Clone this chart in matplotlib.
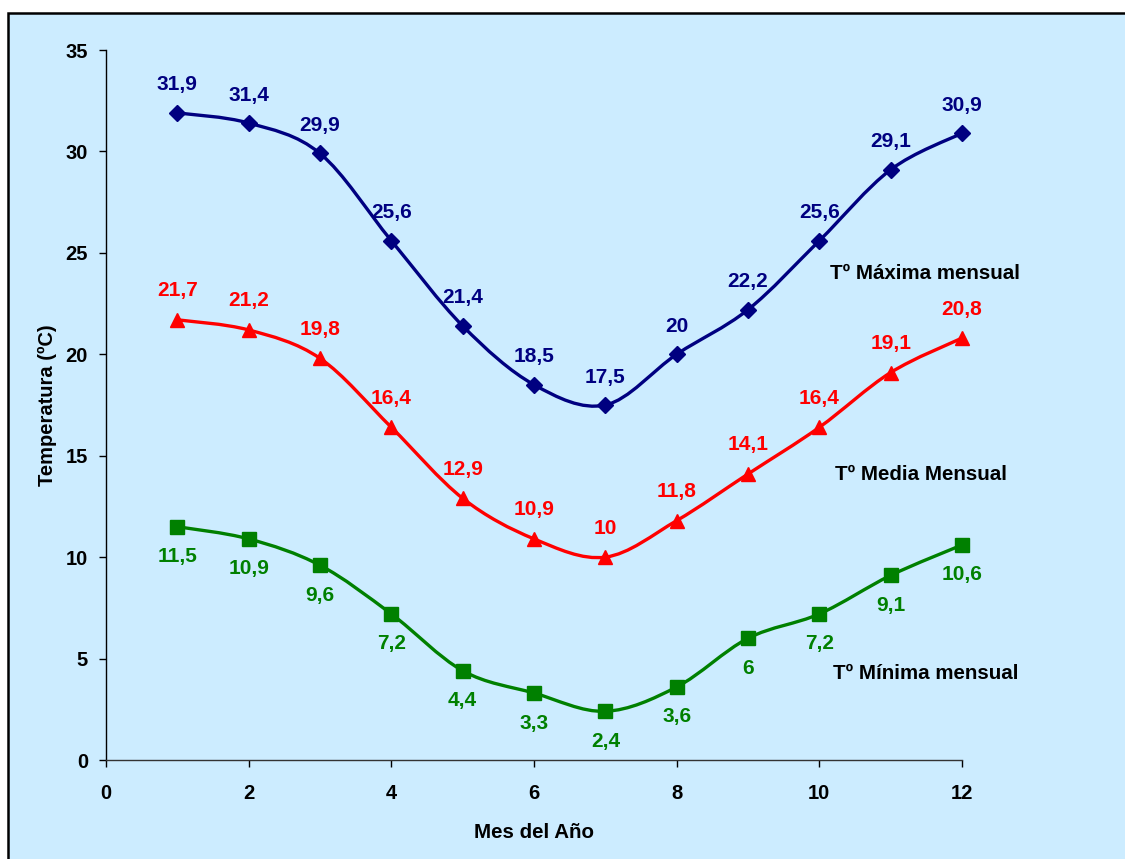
import matplotlib
matplotlib.use("Agg")
import matplotlib.pyplot as plt
from matplotlib.path import Path
from matplotlib.patches import PathPatch, Rectangle
import numpy as np

plt.rcParams['font.family'] = ['Liberation Sans', 'DejaVu Sans']
plt.rcParams['font.weight'] = 'bold'

meses = [1, 2, 3, 4, 5, 6, 7, 8, 9, 10, 11, 12]
t_max = [31.9, 31.4, 29.9, 25.6, 21.4, 18.5, 17.5, 20.0, 22.2, 25.6, 29.1, 30.9]
t_media = [21.7, 21.2, 19.8, 16.4, 12.9, 10.9, 10.0, 11.8, 14.1, 16.4, 19.1, 20.8]
t_min = [11.5, 10.9, 9.6, 7.2, 4.4, 3.3, 2.4, 3.6, 6.0, 7.2, 9.1, 10.6]

etiquetas = ["Tº Máxima mensual", "Tº Media Mensual", "Tº Mínima mensual"]
etiqueta_pos = [(10.15, 24.0), (10.22, 14.05), (10.19, 4.24)]

x_ticks = [0, 2, 4, 6, 8, 10, 12]
y_ticks = [0, 5, 10, 15, 20, 25, 30, 35]

BG = "#CCECFF"


def smooth_path(x, y, tension=1 / 6):
    """Bezier path through the points, in the style of a smoothed line chart."""
    x = np.asarray(x, float)
    y = np.asarray(y, float)
    n = len(x)
    verts = [(x[0], y[0])]
    codes = [Path.MOVETO]
    for i in range(n - 1):
        p0 = np.array([x[max(i - 1, 0)], y[max(i - 1, 0)]])
        p1 = np.array([x[i], y[i]])
        p2 = np.array([x[i + 1], y[i + 1]])
        p3 = np.array([x[min(i + 2, n - 1)], y[min(i + 2, n - 1)]])
        c1 = p1 + (p2 - p0) * tension
        c2 = p2 - (p3 - p1) * tension
        verts += [tuple(c1), tuple(c2), tuple(p2)]
        codes += [Path.CURVE4] * 3
    return Path(verts, codes)


fig = plt.figure(figsize=(11.25, 8.59), dpi=100, facecolor="white")

# framed light-blue chart area
frame = Rectangle((8 / 1125, -0.01), 1.2, (859 - 13) / 859 + 0.01,
                  transform=fig.transFigure, facecolor=BG, edgecolor="black",
                  linewidth=1.8, zorder=-10)
fig.patches.append(frame)

ax = fig.add_axes([106 / 1125, 99 / 859, 856 / 1125, 710 / 859])
ax.set_facecolor("none")
ax.set_zorder(1)

series = [
    (t_max, "#000080", "D", 8.5, 28),
    (t_media, "#FF0000", "^", 10.5, 29),
    (t_min, "#008000", "s", 9.5, -30),
]

for vals, color, marker, ms, dy in series:
    ax.add_patch(PathPatch(smooth_path(meses, vals), facecolor="none",
                           edgecolor=color, linewidth=2.4, zorder=3))
    ax.plot(meses, vals, linestyle="none", marker=marker, markersize=ms,
            color=color, zorder=4, clip_on=False)
    for xv, yv in zip(meses, vals):
        txt = f"{yv:g}".replace(".", ",")
        ax.annotate(txt, (xv, yv), xytext=(0, dy), textcoords="offset pixels",
                    ha="center", va="center", color=color,
                    fontsize=15, fontweight="bold")

for (tx, ty), lab in zip(etiqueta_pos, etiquetas):
    ax.text(tx, ty, lab, ha="left", va="center", color="black",
            fontsize=14.8, fontweight="bold")

ax.set_xlim(0, 12)
ax.set_ylim(0, 35)
ax.set_xticks(x_ticks)
ax.set_yticks(y_ticks)
ax.tick_params(axis="both", direction="out", length=5, width=1,
               labelsize=14.5, colors="black")
ax.tick_params(axis="y", pad=8)
ax.tick_params(axis="x", pad=12)
for lbl in ax.get_xticklabels() + ax.get_yticklabels():
    lbl.set_fontweight("bold")

ax.spines["top"].set_visible(False)
ax.spines["right"].set_visible(False)
ax.spines["left"].set_linewidth(1)
ax.spines["bottom"].set_linewidth(1)
ax.spines["bottom"].set_color("#333333")

ax.set_xlabel("Mes del Año", fontsize=14.8, fontweight="bold", labelpad=15)
ax.set_ylabel("Temperatura (ºC)", fontsize=14.5, fontweight="bold", labelpad=6)

fig.savefig("out.png", dpi=100, facecolor="white")
